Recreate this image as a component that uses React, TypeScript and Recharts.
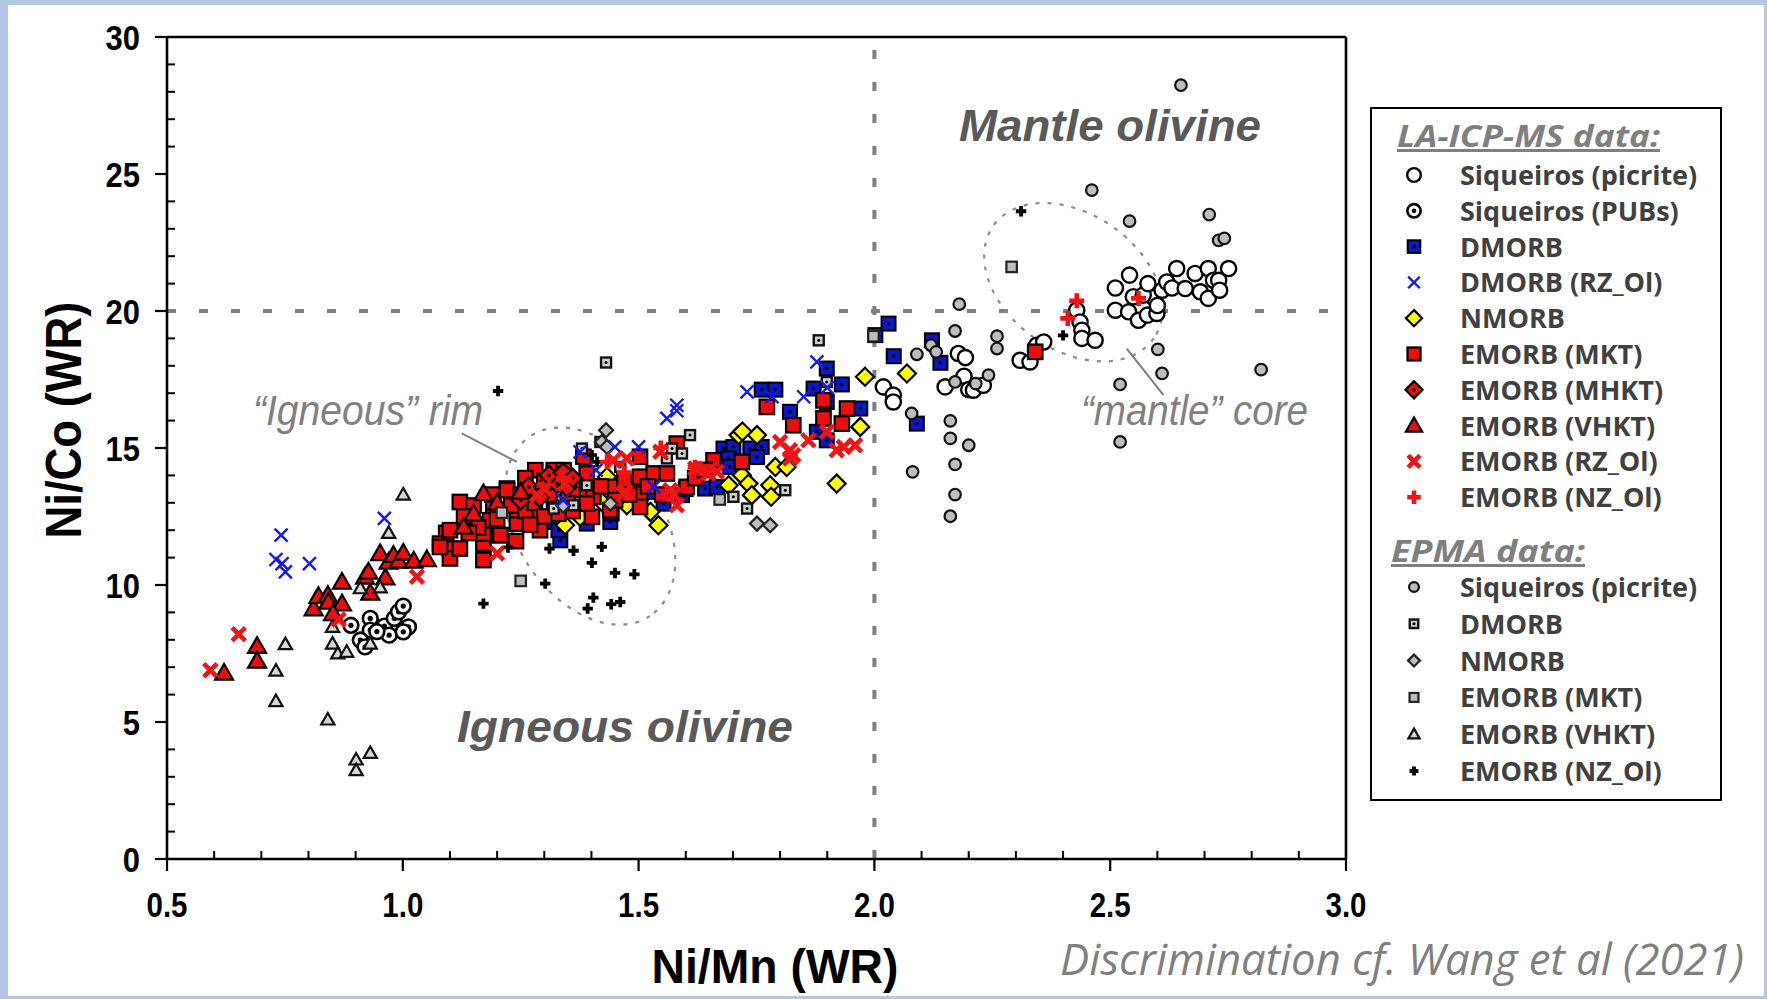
import React from "react";
import { ScatterChart, Scatter, XAxis, YAxis, ReferenceLine, ReferenceDot } from "recharts";

// axis ticks (major labelled, the rest are minor)
const xTicks = [0.5, 0.6, 0.7, 0.8, 0.9, 1.0, 1.1, 1.2, 1.3, 1.4, 1.5, 1.6, 1.7, 1.8, 1.9, 2.0, 2.1, 2.2, 2.3, 2.4, 2.5, 2.6, 2.7, 2.8, 2.9, 3.0];
const yTicks = [0, 1, 2, 3, 4, 5, 6, 7, 8, 9, 10, 11, 12, 13, 14, 15, 16, 17, 18, 19, 20, 21, 22, 23, 24, 25, 26, 27, 28, 29, 30];

// LA-ICP-MS data  [Ni/Mn, Ni/Co]
const laSiqPicrite = [
  [2.019, 17.23], [2.04, 16.93], [2.04, 16.68], [2.178, 18.45], [2.193, 18.3], [2.15, 17.23], [2.19, 17.62], [2.2, 17.13],
  [2.21, 17.11], [2.231, 17.29], [2.309, 18.2], [2.33, 18.14], [2.344, 18.75], [2.359, 18.87], [2.429, 20.03], [2.436, 19.6],
  [2.44, 19.3], [2.44, 19.0], [2.468, 18.93], [2.511, 20.84], [2.541, 21.31], [2.511, 20.03], [2.539, 19.97], [2.56, 19.66],
  [2.579, 19.85], [2.599, 19.91], [2.592, 20.49], [2.61, 20.76], [2.62, 21.06], [2.631, 20.84], [2.641, 21.55], [2.659, 20.82],
  [2.68, 21.37], [2.691, 20.7], [2.708, 21.55], [2.708, 20.46], [2.719, 21.12], [2.73, 21.12], [2.732, 20.76], [2.751, 21.55],
  [2.549, 20.52], [2.57, 20.58], [2.58, 21.0], [2.6, 20.2],
];
const laSiqPubs = [
  [0.89, 8.53], [0.931, 8.78], [0.931, 8.35], [0.91, 7.99], [0.92, 7.74], [0.961, 8.5], [0.971, 8.17], [0.982, 8.78],
  [0.991, 9.02], [1.001, 9.23], [1.012, 8.47], [1.001, 8.29], [0.945, 8.3],
];
const laDmorb = [
  [1.761, 17.13], [1.79, 17.13], [1.821, 16.32], [1.899, 17.9], [1.871, 17.17], [1.931, 17.32], [1.97, 16.44], [1.899, 16.68],
  [1.878, 15.59], [1.899, 15.28], [1.68, 14.98], [1.701, 15.04], [1.737, 14.98], [1.761, 15.04], [1.691, 14.62], [1.751, 14.67],
  [1.694, 14.31], [1.641, 13.52], [1.666, 13.58], [1.553, 12.97], [1.592, 13.28], [1.39, 12.24], [1.44, 12.3], [1.443, 12.61],
  [1.334, 11.63], [1.32, 12.73], [1.32, 12.3], [1.33, 12.0], [2.041, 18.35], [2.14, 18.11], [2.09, 15.89], [2.122, 18.93],
  [2.002, 19.12], [2.03, 19.54], [1.6, 13.5], [1.52, 13.4],
];
const laDmorbRz = [
  [0.742, 11.82], [0.731, 10.93], [0.744, 10.78], [0.751, 10.48], [0.802, 10.78], [0.961, 12.43], [1.45, 15.04], [1.5, 15.04],
  [1.56, 16.08], [1.581, 16.56], [1.581, 16.36], [1.73, 17.05], [1.85, 16.87], [1.878, 18.14], [1.783, 16.87], [1.9, 17.2],
  [1.41, 14.19], [1.532, 13.58], [1.376, 14.86], [1.34, 13.1],
];
const laNmorb = [
  [1.98, 17.6], [2.069, 17.72], [1.97, 15.77], [1.92, 13.7], [1.712, 15.47], [1.751, 15.47], [1.72, 15.6], [1.79, 14.31],
  [1.814, 14.31], [1.719, 14.01], [1.691, 13.64], [1.733, 13.7], [1.779, 13.64], [1.74, 13.28], [1.781, 13.22], [1.542, 12.18],
  [1.525, 12.67], [1.475, 12.91], [1.433, 13.95], [1.422, 13.03], [1.376, 12.49], [1.344, 12.18], [1.344, 13.16], [1.46, 13.2],
  [1.5, 13.1],
];
const laEmorbMkt = [
  [1.092, 11.9], [1.079, 11.51], [1.1, 11.33], [1.1, 10.97], [1.121, 11.33], [1.121, 13.03], [1.171, 10.91], [1.171, 11.51],
  [1.147, 12.43], [1.192, 12.85], [1.2, 11.82], [1.221, 13.52], [1.242, 12.24], [1.281, 14.19], [1.32, 14.19], [1.291, 12.0],
  [1.383, 14.68], [1.39, 14.07], [1.383, 13.46], [1.404, 13.22], [1.503, 14.68], [1.503, 13.95], [1.401, 12.49], [1.1, 12.0],
  [1.079, 11.39], [1.171, 11.88], [1.185, 12.36], [1.221, 13.46], [1.207, 11.82], [1.242, 12.73], [1.277, 12.55], [1.341, 14.19],
  [1.39, 12.97], [1.503, 13.34], [1.503, 12.85], [1.532, 14.07], [1.56, 14.07], [1.581, 15.16], [1.44, 13.58], [1.44, 12.73],
  [1.602, 13.58], [1.659, 14.55], [1.719, 14.49], [1.772, 16.5], [1.828, 15.83], [1.892, 16.74], [1.892, 16.08], [1.931, 15.89],
  [1.942, 16.44], [1.15, 12.9], [1.16, 12.1], [1.2, 12.4], [1.23, 12.9], [1.25, 13.3], [1.26, 12.7], [1.28, 13.0],
  [1.3, 12.5], [1.31, 13.3], [1.33, 13.9], [1.35, 13.3], [1.36, 12.7], [1.42, 13.6], [1.45, 13.1], [1.47, 13.8],
  [1.48, 13.3], [1.52, 13.6], [1.55, 13.3], [1.62, 13.9], [1.64, 14.2], [1.14, 11.9], [1.26, 13.9], [1.3, 13.8],
  [1.36, 13.5], [1.24, 11.6], [2.341, 18.51], [1.13, 12.5], [1.19, 13.3], [1.27, 12.2], [1.33, 12.6],
];
const laEmorbMhkt = [
  [1.267, 13.58], [1.299, 13.58], [1.327, 13.7], [1.348, 13.58], [1.31, 14.0], [1.29, 13.2], [1.34, 14.1], [1.25, 13.1], [1.36, 13.9],
];
const laEmorbVhkt = [
  [0.621, 6.79], [0.691, 7.77], [0.691, 7.23], [0.811, 9.14], [0.821, 9.59], [0.841, 9.63], [0.842, 9.38], [0.871, 10.11],
  [0.871, 9.32], [0.852, 8.96], [0.92, 10.3], [0.931, 9.71], [0.927, 10.48], [0.952, 11.15], [0.963, 10.27], [0.97, 10.84],
  [0.98, 11.09], [0.991, 10.88], [1.001, 11.17], [1.023, 10.88], [1.051, 10.93], [1.171, 13.34], [1.129, 12.12], [1.2, 13.0],
  [1.25, 13.4], [1.15, 12.6],
];
const laEmorbRz = [
  [0.592, 6.89], [0.652, 8.2], [0.864, 8.74], [1.03, 10.3], [1.2, 11.15], [1.284, 13.28], [1.468, 13.34], [1.447, 14.55],
  [1.546, 14.86], [1.472, 13.4], [1.567, 13.46], [1.581, 12.91], [1.62, 14.25], [1.648, 14.07], [1.666, 14.13], [1.8, 15.22],
  [1.821, 14.92], [1.828, 14.74], [1.86, 15.28], [1.899, 15.59], [1.92, 14.92], [1.935, 15.04], [1.959, 15.1], [1.344, 13.7],
  [1.475, 14.62], [1.821, 14.62], [1.574, 13.3], [1.3, 13.5],
];
const laEmorbNz = [
  [2.429, 20.37], [2.41, 19.73], [2.56, 20.46], [1.433, 14.49], [1.547, 15.0], [1.34, 13.9], [1.47, 14.1], [1.62, 14.3],
];

// EPMA data
const epSiqPicrite = [
  [2.18, 20.25], [2.171, 19.27], [2.09, 18.42], [2.12, 18.75], [2.131, 18.51], [2.26, 19.08], [2.26, 18.63], [2.242, 17.66],
  [2.171, 17.41], [2.079, 16.26], [2.161, 15.99], [2.161, 15.35], [2.2, 15.1], [2.171, 14.4], [2.081, 14.13], [2.171, 13.3],
  [2.161, 12.51], [2.601, 18.6], [2.61, 17.72], [2.521, 17.32], [2.521, 15.22], [2.82, 17.86], [2.65, 28.24], [2.461, 24.41],
  [2.541, 23.28], [2.71, 23.52], [2.73, 22.58], [2.742, 22.65], [2.215, 17.35],
];
const epDmorb = [
  [1.431, 18.12], [1.38, 14.98], [1.419, 15.22], [1.461, 14.31], [1.571, 14.98], [1.592, 14.8], [1.56, 14.62], [1.609, 15.47],
  [1.701, 13.22], [1.73, 12.79], [1.811, 13.46], [1.882, 18.93], [1.899, 17.41], [1.32, 12.79], [1.362, 12.91], [1.39, 13.64],
];
const epNmorb = [[1.431, 15.65], [1.422, 15.22], [1.433, 15.04], [1.44, 12.97], [1.751, 12.24], [1.779, 12.18], [1.34, 12.9]];
const epEmorbMkt = [[1.25, 10.15], [1.672, 13.12], [2.291, 21.61], [1.21, 12.64], [1.998, 19.08]];
const epEmorbVhkt = [
  [0.731, 6.87], [0.731, 5.76], [0.751, 7.84], [0.841, 5.09], [0.851, 8.47], [0.851, 7.86], [0.862, 7.5], [0.881, 7.56],
  [0.901, 3.63], [0.901, 3.24], [0.931, 3.87], [0.931, 7.86], [0.91, 9.88], [0.952, 9.91], [0.97, 11.9], [1.001, 13.3],
];
const epEmorbNz = [
  [1.171, 9.32], [1.302, 10.05], [1.311, 11.33], [1.362, 11.25], [1.422, 11.39], [1.401, 10.81], [1.45, 10.44], [1.491, 10.39],
  [1.404, 9.54], [1.392, 9.14], [1.442, 9.3], [1.461, 9.38], [1.223, 11.37], [1.202, 17.08], [1.401, 14.74], [1.412, 14.49],
  [2.311, 23.64], [2.4, 19.11],
];

// discrimination fields
const boundaryX = 2.0;
const boundaryY = 20;
const rimEllipse = { x: 1.397, y: 12.15 };
const coreEllipse = { x: 2.422, y: 21.05 };
const rimLeader = [{ x: 1.125, y: 15.53 }, { x: 1.242, y: 14.49 }];
const coreLeader = [{ x: 2.535, y: 18.63 }, { x: 2.613, y: 16.93 }];

const laLegend = [
  ["Siqueiros (picrite)", "openCircle"],
  ["Siqueiros (PUBs)", "bullseye"],
  ["DMORB", "blueSq"],
  ["DMORB (RZ_Ol)", "blueX"],
  ["NMORB", "yellowDiamond"],
  ["EMORB (MKT)", "redSq"],
  ["EMORB (MHKT)", "redDiamond"],
  ["EMORB (VHKT)", "redTri"],
  ["EMORB (RZ_Ol)", "redX"],
  ["EMORB (NZ_Ol)", "redPlus"],
];
const epLegend = [
  ["Siqueiros (picrite)", "grayCircle"],
  ["DMORB", "graySqDot"],
  ["NMORB", "grayDiamond"],
  ["EMORB (MKT)", "graySq"],
  ["EMORB (VHKT)", "grayTri"],
  ["EMORB (NZ_Ol)", "blackPlus"],
];

const toPts = (arr: number[][]) => arr.map(([x, y]) => ({ x, y }));

const RED = "#ee0d0d";

function Marker({ kind, cx, cy, k = 1 }: { kind: string; cx: number; cy: number; k?: number }) {
  const sq = (s: number, fill: string, sw: number, stroke = "#000") => (
    <rect x={cx - (s * k) / 2} y={cy - (s * k) / 2} width={s * k} height={s * k} fill={fill} stroke={stroke} strokeWidth={sw} />
  );
  const dia = (h0: number, fill: string, sw: number, stroke = "#000") => {
    const h = h0 * k;
    return <path d={`M${cx},${cy - h}L${cx + h},${cy}L${cx},${cy + h}L${cx - h},${cy}Z`} fill={fill} stroke={stroke} strokeWidth={sw} />;
  };
  const cross = (h0: number, color: string, sw: number) => {
    const h = h0 * k;
    return <path d={`M${cx - h},${cy - h}L${cx + h},${cy + h}M${cx - h},${cy + h}L${cx + h},${cy - h}`} stroke={color} strokeWidth={sw} />;
  };
  const plus = (h0: number, color: string, sw: number) => {
    const h = h0 * k;
    return <path d={`M${cx - h},${cy}L${cx + h},${cy}M${cx},${cy - h}L${cx},${cy + h}`} stroke={color} strokeWidth={sw} />;
  };
  const tri = (w0: number, fill: string, sw: number, stroke = "#000") => {
    const w = w0 * k;
    return <path d={`M${cx},${cy - w}L${cx + w},${cy + w * 0.75}L${cx - w},${cy + w * 0.75}Z`} fill={fill} stroke={stroke} strokeWidth={sw} />;
  };
  const dot = (r: number) => <circle cx={cx} cy={cy} r={r} fill="#000" />;
  switch (kind) {
    case "openCircle":
      return <circle cx={cx} cy={cy} r={7.6 * k} fill="#fff" stroke="#000" strokeWidth={2.4} />;
    case "bullseye":
      return (
        <g>
          <circle cx={cx} cy={cy} r={7.4 * k} fill="#fff" stroke="#000" strokeWidth={2.6} />
          {dot(2.6 * k)}
        </g>
      );
    case "blueSq":
      return <g>{sq(14, "#0b18c4", 2)}{dot(1.8)}</g>;
    case "blueX":
      return cross(6.5, "#1818e8", 2.4);
    case "yellowDiamond":
      return dia(9, "#ffff00", 2.2);
    case "redSq":
      return sq(14.5, RED, 2.2);
    case "redDiamond":
      return <g>{dia(9.5, RED, 2.2)}{dot(1.9)}</g>;
    case "redTri":
      return tri(9, RED, 2.2);
    case "redX":
      return cross(6.6, "#f01414", 4.6);
    case "redPlus":
      return plus(7.5, "#f01414", 4.6);
    case "grayCircle":
      return <circle cx={cx} cy={cy} r={5.8 * k} fill="#bdbdbd" stroke="#111" strokeWidth={2.2} />;
    case "graySqDot":
      return <g>{sq(10, "#cfcfcf", 2.4, "#111")}{dot(1.5)}</g>;
    case "grayDiamond":
      return dia(7, "#bdbdbd", 2.2, "#222");
    case "graySq":
      return sq(10.5, "#bdbdbd", 2.2, "#222");
    case "grayTri":
      return tri(6.6, "#d6d6d6", 2.2, "#111");
    case "blackPlus":
      return plus(5.2, "#000", 3.8);
    default:
      return null;
  }
}

const shapeOf = (kind: string) => (p: any) => <Marker kind={kind} cx={p.cx} cy={p.cy} />;

const TICK_FONT = "'Liberation Sans', Arial, sans-serif";
const isMajorX = (v: number) => Math.abs(v * 2 - Math.round(v * 2)) < 1e-6;
const isMajorY = (v: number) => Math.abs(v / 5 - Math.round(v / 5)) < 1e-6;

function BottomTick(props: any) {
  const { x, y, payload } = props;
  const v = payload.value;
  if (isMajorX(v)) {
    return (
      <g>
        <line x1={x} x2={x} y1={y} y2={y + 12} stroke="#000" strokeWidth={2.2} />
        <text transform={`translate(${x},${y + 58}) scale(0.82,1)`} textAnchor="middle" fontFamily={TICK_FONT} fontWeight={700} fontSize={36} fill="#000">
          {v.toFixed(1)}
        </text>
      </g>
    );
  }
  return <line x1={x} x2={x} y1={y} y2={y - 8} stroke="#000" strokeWidth={2} />;
}

function LeftTick(props: any) {
  const { x, y, payload } = props;
  const v = payload.value;
  if (isMajorY(v)) {
    return (
      <g>
        <line x1={x - 12} x2={x} y1={y} y2={y} stroke="#000" strokeWidth={2.2} />
        <text transform={`translate(${x - 27},${y + 13}) scale(0.86,1)`} textAnchor="end" fontFamily={TICK_FONT} fontWeight={700} fontSize={36} fill="#000">
          {v}
        </text>
      </g>
    );
  }
  return <line x1={x} x2={x + 8} y1={y} y2={y} stroke="#000" strokeWidth={2} />;
}

function TopTick(props: any) {
  const { x, y } = props;
  return <line x1={x} x2={x} y1={y} y2={y + 8} stroke="#000" strokeWidth={2} />;
}

function RightTick(props: any) {
  const { x, y } = props;
  return <line x1={x - 8} x2={x} y1={y} y2={y} stroke="#000" strokeWidth={2} />;
}

const series = [
  { name: "LA Siqueiros (picrite)", data: laSiqPicrite, kind: "openCircle" },
  { name: "LA Siqueiros (PUBs)", data: laSiqPubs, kind: "bullseye" },
  { name: "LA DMORB", data: laDmorb, kind: "blueSq" },
  { name: "LA NMORB", data: laNmorb, kind: "yellowDiamond" },
  { name: "LA EMORB (MKT)", data: laEmorbMkt, kind: "redSq" },
  { name: "LA EMORB (MHKT)", data: laEmorbMhkt, kind: "redDiamond" },
  { name: "LA EMORB (VHKT)", data: laEmorbVhkt, kind: "redTri" },
  { name: "EPMA Siqueiros (picrite)", data: epSiqPicrite, kind: "grayCircle" },
  { name: "EPMA DMORB", data: epDmorb, kind: "graySqDot" },
  { name: "EPMA NMORB", data: epNmorb, kind: "grayDiamond" },
  { name: "EPMA EMORB (MKT)", data: epEmorbMkt, kind: "graySq" },
  { name: "EPMA EMORB (VHKT)", data: epEmorbVhkt, kind: "grayTri" },
  { name: "EPMA EMORB (NZ_Ol)", data: epEmorbNz, kind: "blackPlus" },
  { name: "LA DMORB (RZ_Ol)", data: laDmorbRz, kind: "blueX" },
  { name: "LA EMORB (RZ_Ol)", data: laEmorbRz, kind: "redX" },
  { name: "LA EMORB (NZ_Ol)", data: laEmorbNz, kind: "redPlus" },
];

const axisLine = { stroke: "#000", strokeWidth: 2.6 };

export default function App() {
  return (
    <div style={{ position: "absolute", left: 0, top: 0, width: 1767, height: 999, background: "#b4c7e7", overflow: "hidden" }}>
      <div style={{ position: "absolute", left: 8, top: 5, width: 1756, height: 991, background: "#fff" }} />
      <div style={{ position: "absolute", left: 0, top: 0 }}>
        <ScatterChart width={1767} height={999} margin={{ top: 36, right: 411, bottom: 40, left: 67 }}>
          <XAxis xAxisId="b" type="number" dataKey="x" domain={[0.5, 3]} ticks={xTicks} interval={0} tickSize={0} tickMargin={0}
            tickLine={false} tick={BottomTick} axisLine={axisLine} height={100} />
          <XAxis xAxisId="t" orientation="top" type="number" dataKey="x" domain={[0.5, 3]} ticks={xTicks} interval={0} tickSize={0}
            tickMargin={0} tickLine={false} tick={TopTick} axisLine={axisLine} height={1} />
          <YAxis yAxisId="l" type="number" dataKey="y" domain={[0, 30]} ticks={yTicks} interval={0} tickSize={0} tickMargin={0}
            tickLine={false} tick={LeftTick} axisLine={axisLine} width={100} />
          <YAxis yAxisId="r" orientation="right" type="number" dataKey="y" domain={[0, 30]} ticks={yTicks} interval={0} tickSize={0}
            tickMargin={0} tickLine={false} tick={RightTick} axisLine={axisLine} width={10} />

          <ReferenceLine xAxisId="b" yAxisId="l" y={boundaryY} stroke="#7f7f7f" strokeWidth={4} strokeDasharray="9 23" />
          <ReferenceLine xAxisId="b" yAxisId="l" x={boundaryX} stroke="#7f7f7f" strokeWidth={4} strokeDasharray="9 23" />

          <ReferenceDot xAxisId="b" yAxisId="l" x={rimEllipse.x} y={rimEllipse.y}
            shape={(p: any) => (
              <ellipse cx={p.cx} cy={p.cy} rx={108} ry={73} transform={`rotate(56.4 ${p.cx} ${p.cy})`} fill="none"
                stroke="#8c8c8c" strokeWidth={2.2} strokeDasharray="4 8" />
            )} />
          <ReferenceDot xAxisId="b" yAxisId="l" x={coreEllipse.x} y={coreEllipse.y}
            shape={(p: any) => (
              <ellipse cx={p.cx} cy={p.cy} rx={98} ry={68} transform={`rotate(35 ${p.cx} ${p.cy})`} fill="none"
                stroke="#8c8c8c" strokeWidth={2.2} strokeDasharray="4 8" />
            )} />
          <ReferenceLine xAxisId="b" yAxisId="l" segment={rimLeader} stroke="#808080" strokeWidth={2} />
          <ReferenceLine xAxisId="b" yAxisId="l" segment={coreLeader} stroke="#808080" strokeWidth={2} />

          {series.map((s) => (
            <Scatter key={s.name} name={s.name} xAxisId="b" yAxisId="l" data={toPts(s.data)} shape={shapeOf(s.kind)}
              isAnimationActive={false} />
          ))}
        </ScatterChart>
      </div>

      <svg width={1767} height={999} style={{ position: "absolute", left: 0, top: 0, pointerEvents: "none" }}>
        {/* axis titles */}
        <text x={775} y={983} textAnchor="middle" fontFamily={TICK_FONT} fontWeight={700} fontSize={48} fill="#000"
          textLength={247} lengthAdjust="spacingAndGlyphs">Ni/Mn (WR)</text>
        <text transform="translate(81,420) rotate(-90)" textAnchor="middle" fontFamily={TICK_FONT} fontWeight={700} fontSize={50}
          fill="#000" textLength={237} lengthAdjust="spacingAndGlyphs">Ni/Co (WR)</text>

        {/* field labels */}
        <text x={959} y={141} fontFamily={TICK_FONT} fontWeight={700} fontStyle="italic" fontSize={45} fill="#595959"
          textLength={302} lengthAdjust="spacingAndGlyphs">Mantle olivine</text>
        <text x={457} y={742} fontFamily={TICK_FONT} fontWeight={700} fontStyle="italic" fontSize={45} fill="#595959"
          textLength={336} lengthAdjust="spacingAndGlyphs">Igneous olivine</text>
        <text x={253} y={425} fontFamily={TICK_FONT} fontStyle="italic" fontSize={42} fill="#808080"
          textLength={230} lengthAdjust="spacingAndGlyphs">“Igneous” rim</text>
        <text x={1081} y={425} fontFamily={TICK_FONT} fontStyle="italic" fontSize={42} fill="#808080"
          textLength={227} lengthAdjust="spacingAndGlyphs">“mantle” core</text>

        <text x={1060} y={975} fontFamily="'Open Sans', sans-serif" fontStyle="italic" fontSize={44} fill="#7f7f7f"
          textLength={684} lengthAdjust="spacingAndGlyphs">Discrimination cf. Wang et al (2021)</text>

        {/* legend */}
        <rect x={1371} y={108} width={350} height={692} fill="#fff" stroke="#000" strokeWidth={2} />
        <text x={1397} y={147} fontFamily="'Open Sans', sans-serif" fontWeight={700} fontStyle="italic" fontSize={30} fill="#7f7f7f"
          textDecoration="underline" textLength={263} lengthAdjust="spacingAndGlyphs">LA-ICP-MS data:</text>
        {laLegend.map(([label, kind], i) => (
          <g key={label + kind}>
            <Marker kind={kind} cx={1414} cy={175 + i * 35.8} k={0.9} />
            <text x={1460} y={185 + i * 35.8} fontFamily="'Open Sans', sans-serif" fontWeight={700} fontSize={27} fill="#404040">
              {label}
            </text>
          </g>
        ))}
        <text x={1391} y={562} fontFamily="'Open Sans', sans-serif" fontWeight={700} fontStyle="italic" fontSize={30} fill="#7f7f7f"
          textDecoration="underline" textLength={194} lengthAdjust="spacingAndGlyphs">EPMA data:</text>
        {epLegend.map(([label, kind], i) => (
          <g key={label + kind}>
            <Marker kind={kind} cx={1414} cy={587 + i * 36.8} k={0.85} />
            <text x={1460} y={597 + i * 36.8} fontFamily="'Open Sans', sans-serif" fontWeight={700} fontSize={27} fill="#404040">
              {label}
            </text>
          </g>
        ))}
      </svg>
    </div>
  );
}
